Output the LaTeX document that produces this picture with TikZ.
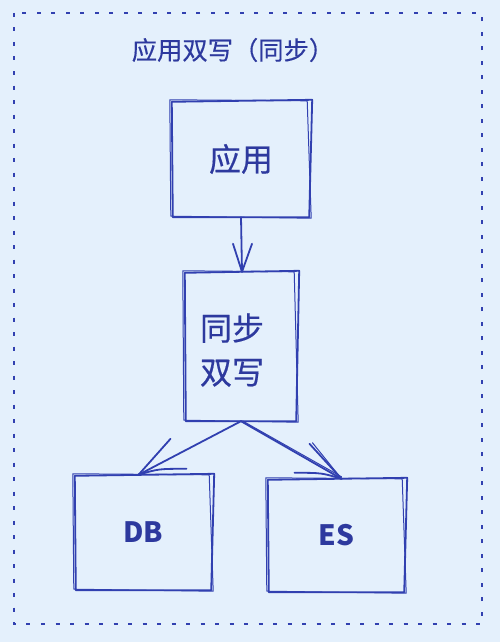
\documentclass[tikz,border=0pt]{standalone}
\usepackage{fontspec}
\setmainfont{Noto Sans CJK SC}
\newfontfamily\cjkm{Noto Sans CJK SC}[FakeBold=0.4]
\usetikzlibrary{calc}
\definecolor{bg}{HTML}{E4F0FC}
\definecolor{ink}{HTML}{3140B0}
\definecolor{txt}{HTML}{2D399E}
\newcommand\roughbox[1]{%
  \draw[stroke] ([shift={(0,1)}]#1.north west) -- ([shift={(2,-1)}]#1.north east) -- ([shift={(-1,0)}]#1.south east) -- ([shift={(1,0)}]#1.south west) -- cycle;
  \draw[stroke2] ([shift={(-2,-1)}]#1.north west) -- ([shift={(-3,0)}]#1.north east) -- ([shift={(1,1)}]#1.south east) -- ([shift={(-1,-1)}]#1.south west) -- cycle;}
\begin{document}
\begin{tikzpicture}[x=1pt,y=-1pt,
  holder/.style={draw=none,inner sep=0pt,text=txt},
  stroke/.style={draw=ink,line width=1.8pt,line cap=round,line join=round},
  stroke2/.style={draw=ink,line width=1pt,line cap=round,line join=round},
  label/.style={text=txt,inner sep=0pt}]
\fill[bg] (0,0) rectangle (500,642);
\useasboundingbox (0,0) rectangle (500,642);
\draw[ink,line width=2.5pt,dash pattern=on 4pt off 10.5pt] (14,13) rectangle (482,624);
\node[label,font=\cjkm\fontsize{25.3}{30}\selectfont] (title) at (233,50) {应用双写（同步）};
\node[holder,minimum width=138pt,minimum height=116pt,font=\cjkm\fontsize{32}{38}\selectfont] (app) at (241,159) {应用};
\node[holder,minimum width=112pt,minimum height=149pt] (mid) at (241,346.5) {};
\node[label,font=\cjkm\fontsize{32}{44}\selectfont,align=left] (midtext) at (232,350) {同步\\双写};
\node[holder,minimum width=137pt,minimum height=115pt,font=\fontsize{28}{32}\selectfont\bfseries] (db) at (143.5,532.5) {DB};
\node[holder,minimum width=137pt,minimum height=113pt,font=\fontsize{28}{32}\selectfont\bfseries] (es) at (336.5,535.5) {ES};
\roughbox{app}
\roughbox{mid}
\roughbox{db}
\roughbox{es}
% app -> mid
\coordinate (t1) at ([xshift=1pt]mid.north);
\draw[stroke] (app.south) -- (t1);
\draw[stroke] ([shift={(-9,-28)}]t1) -- (t1) -- ([shift={(10,-28)}]t1);
% mid -> db
\coordinate (t2) at ([xshift=-5pt]db.north);
\draw[stroke] (mid.south) -- (t2);
\draw[stroke] ([shift={(32,-36)}]t2) -- (t2);
\draw[stroke] (t2) .. controls ([shift={(20,-6)}]t2) .. ([shift={(48,-6)}]t2);
% mid -> es
\coordinate (t3) at ([xshift=5pt]es.north);
\draw[stroke] (mid.south) -- (t3);
\draw[stroke2] ([shift={(2,0)}]mid.south) -- ([shift={(0,-2)}]t3);
\draw[stroke] ([shift={(-32,-35)}]t3) -- (t3);
\draw[stroke2] ([shift={(-29,-36)}]t3) -- (t3);
\draw[stroke] (t3) .. controls ([shift={(-20,-6)}]t3) .. ([shift={(-47,-6)}]t3);
\end{tikzpicture}
\end{document}
